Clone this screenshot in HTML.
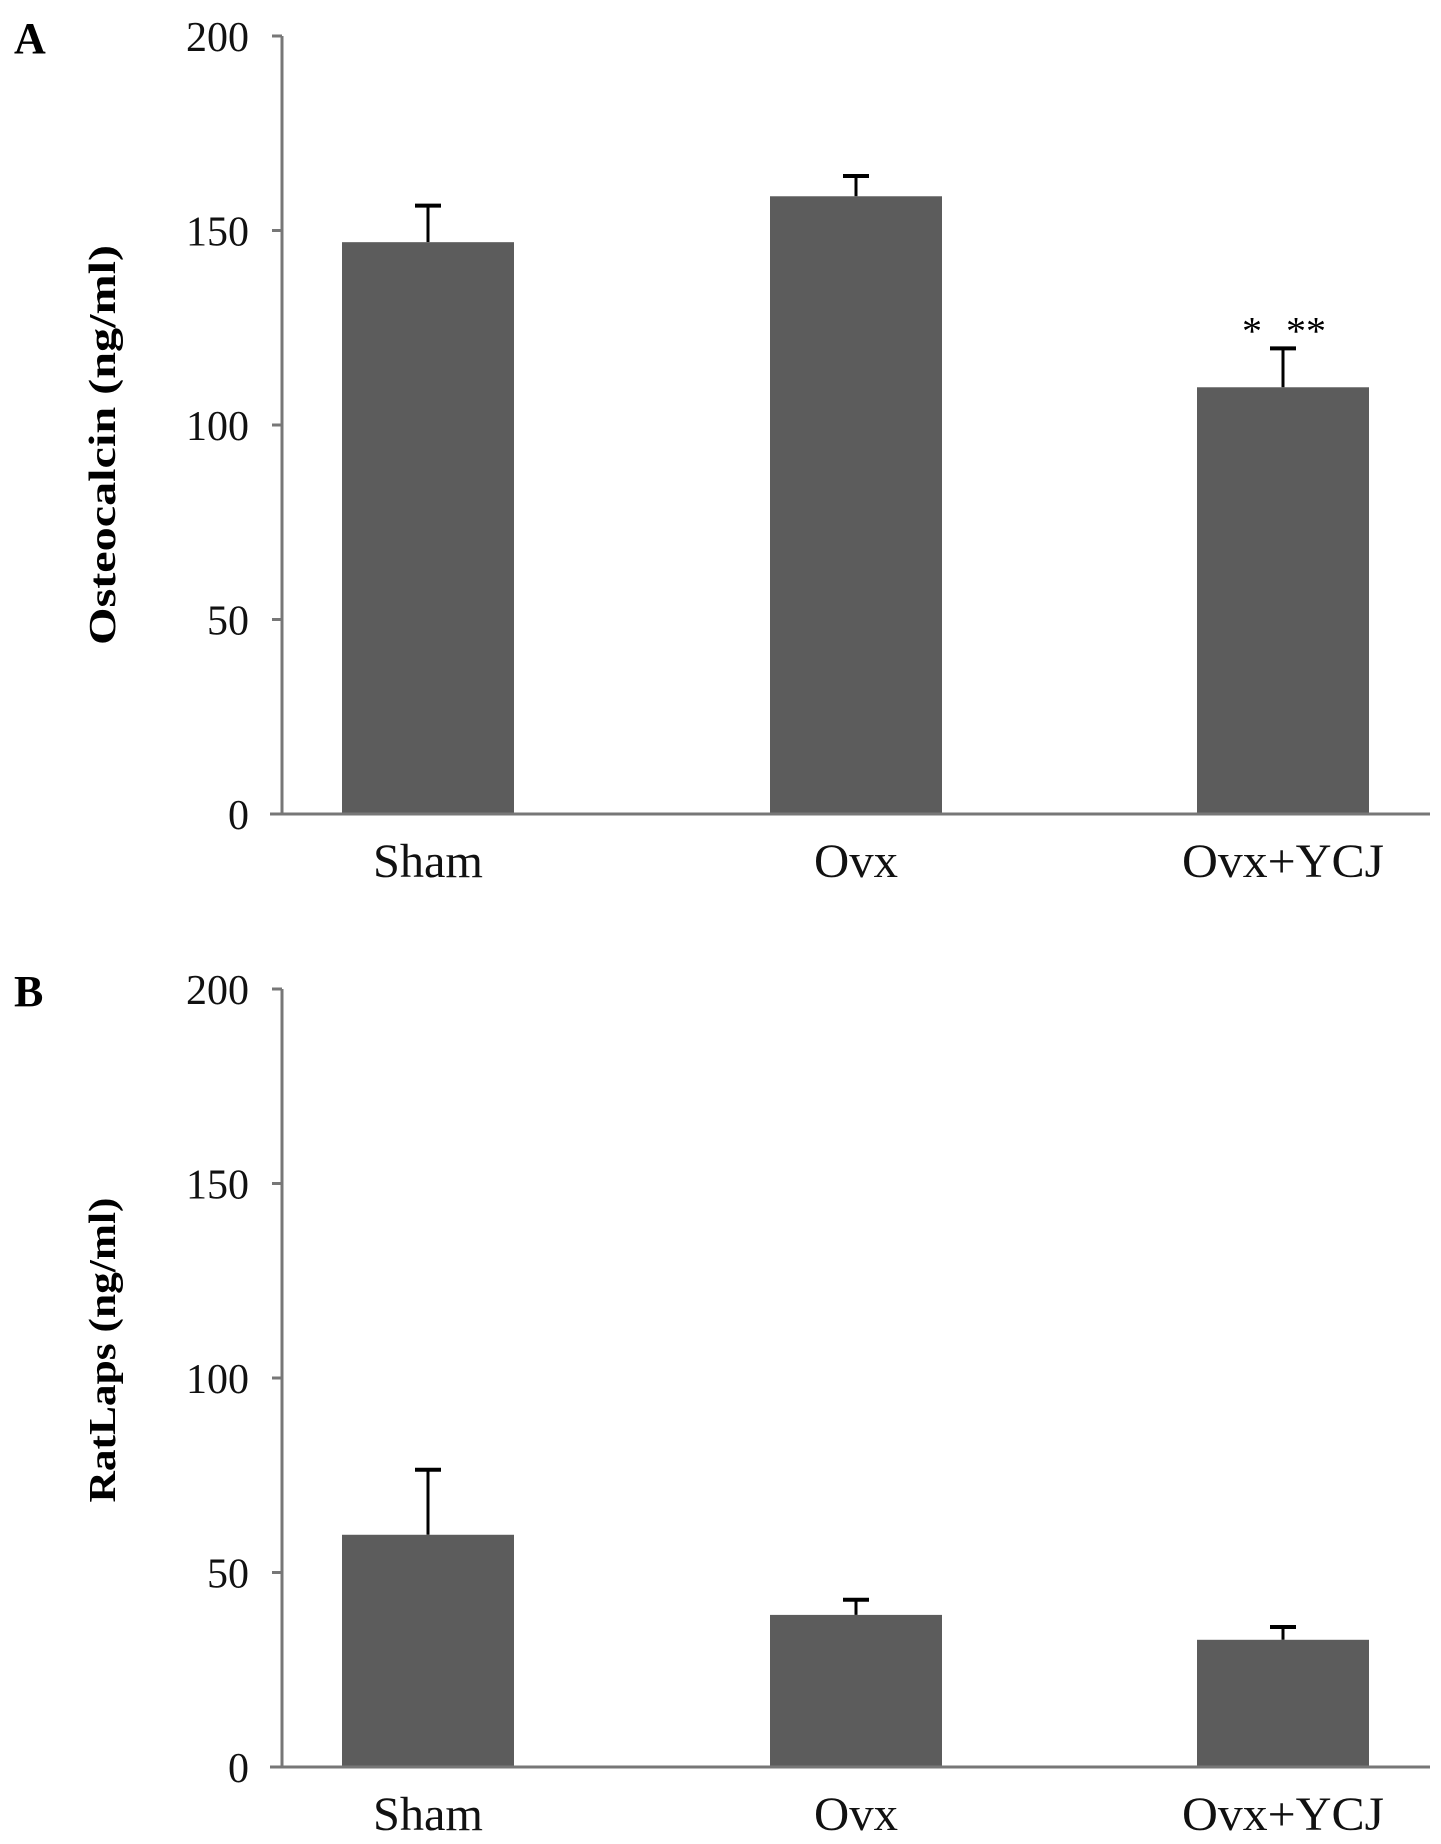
<!DOCTYPE html>
<html><head><meta charset="utf-8"><style>
html,body{margin:0;padding:0;background:#fff}
svg{display:block;font-family:"Liberation Serif",serif}
</style></head><body>
<svg id="fig" width="1441" height="1844" viewBox="0 0 1441 1844" xmlns="http://www.w3.org/2000/svg"></svg>
<script>
const categories = ["Sham", "Ovx", "Ovx+YCJ"];
const osteoValues = [147, 158.8, 109.7];
const osteoErrors = [9.4, 5.2, 10];
const ratlapsValues = [59.7, 39.1, 32.7];
const ratlapsErrors = [16.7, 3.9, 3.3];
const yTicks = [0, 50, 100, 150, 200];
const osteoAnnot = ["*", "**"];

const NS = "http://www.w3.org/2000/svg";
const svg = document.getElementById("fig");
function mk(tag, attrs, parent) {
  const e = document.createElementNS(NS, tag);
  for (const k in attrs) e.setAttribute(k, attrs[k]);
  (parent || svg).appendChild(e);
  return e;
}
const centers = [428, 856, 1283];
const labelLens = [110, 84, 202];
const barW = 172;

function panel(p) {
  const g = mk("g", {});
  
  
  const y = v => p.y0 - (v / 200) * (p.y0 - p.y200);
  const x = i => centers[i];
  const lt = mk("text", {x: 14, y: p.y200 + 17, "font-size": 44, "font-weight": "bold"}, g);
  lt.textContent = p.letter;
  
  
  const ax = mk("line", {x1: 282, y1: p.y200, x2: 282, y2: p.y0, stroke: "#777", "stroke-width": 3}, g);
  
  
  yTicks.forEach(t => {
    const tk = mk("line", {x1: 272, y1: y(t), x2: 282, y2: y(t), stroke: "#777", "stroke-width": 3}, g);
    
    
    const tl = mk("text", {x: 249, y: y(t) + 15, "text-anchor": "end", "font-size": 42, fill: "#111"}, g);
    tl.textContent = t;
    
    
  });
  categories.forEach((c, i) => {
    const v = p.values[i], e = p.errors[i];
    const eb = mk("line", {x1: x(i), y1: y(v), x2: x(i), y2: y(v + e), stroke: "#000", "stroke-width": 3}, g);
    
    
    const cap = mk("line", {x1: x(i) - 13, y1: y(v + e), x2: x(i) + 13, y2: y(v + e), stroke: "#000", "stroke-width": 4}, g);
    
    
    const b = mk("rect", {x: x(i) - barW / 2, y: y(v), width: barW, height: y(0) - y(v), fill: "#5c5c5c"}, g);
    
    
    const cl = mk("text", {x: x(i), y: p.y0 + 63, "text-anchor": "middle", "font-size": 48, fill: "#111",
      textLength: labelLens[i], lengthAdjust: "spacingAndGlyphs"}, g);
    cl.textContent = c;
    
    
  });
  const xa = mk("line", {x1: 270, y1: p.y0, x2: 1430, y2: p.y0, stroke: "#777", "stroke-width": 3}, g);
  
  
  const yt = mk("text", {x: 0, y: 0, "text-anchor": "middle", "font-size": 38, "font-weight": "bold",
    textLength: p.titleLen, lengthAdjust: "spacingAndGlyphs",
    transform: "translate(" + 115 + "," + p.titleY + ") rotate(-90)"}, g);
  yt.textContent = p.title;
  
  
  return {g, y, x};
}

const A = panel({name: "panel-a-osteocalcin", letter: "A", y0: 814, y200: 36, values: osteoValues, errors: osteoErrors, title: "Osteocalcin (ng/ml)", titleY: 445, titleLen: 400});
const s1 = mk("text", {x: 1252, y: A.y(osteoValues[2] + osteoErrors[2]) - 4, "text-anchor": "middle", "font-size": 40}, A.g);
s1.textContent = osteoAnnot[0];


const s2 = mk("text", {x: 1306, y: A.y(osteoValues[2] + osteoErrors[2]) - 4, "text-anchor": "middle", "font-size": 40}, A.g);
s2.textContent = osteoAnnot[1];



panel({name: "panel-b-ratlaps", letter: "B", y0: 1767, y200: 989, values: ratlapsValues, errors: ratlapsErrors, title: "RatLaps (ng/ml)", titleY: 1350, titleLen: 305});
</script>
</body></html>
